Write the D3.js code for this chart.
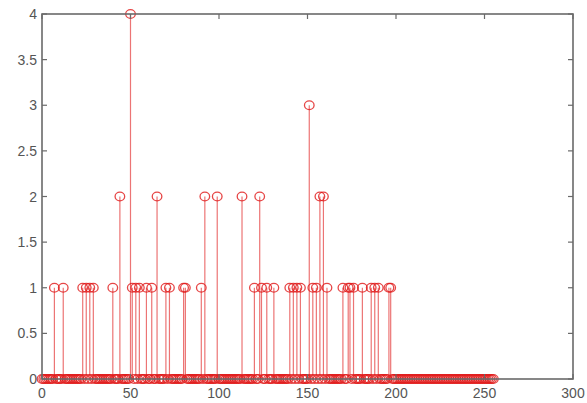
<!DOCTYPE html>
<html>
<head>
<meta charset="utf-8">
<script src="https://cdn.jsdelivr.net/npm/d3@7"></script>
<style>
  html, body { margin: 0; padding: 0; background: #fff; }
  svg { display: block; }
</style>
</head>
<body>
<svg id="chart" width="587" height="403"></svg>
<script>
// Histogram bins 0..255 (stem plot). Non-zero bins.
const binCount = 256;
const nonzeroBins   = [7, 12, 23, 25, 27, 29, 40, 44, 50, 51, 53, 55, 59, 62, 65, 70, 72, 80, 81,
                       90, 92, 99, 113, 120, 123, 124, 127, 131, 140, 142, 144, 146, 151, 153, 155,
                       157, 159, 161, 170, 173, 174, 176, 181, 186, 188, 190, 196, 197];
const nonzeroCounts = [1, 1, 1, 1, 1, 1, 1, 2, 4, 1, 1, 1, 1, 1, 2, 1, 1, 1, 1,
                       1, 2, 2, 2, 1, 2, 1, 1, 1, 1, 1, 1, 1, 3, 1, 1,
                       2, 2, 1, 1, 1, 1, 1, 1, 1, 1, 1, 1, 1];
const xTicks = [0, 50, 100, 150, 200, 250, 300];
const yTicks = [0, 0.5, 1, 1.5, 2, 2.5, 3, 3.5, 4];

const counts = new Array(binCount).fill(0);
nonzeroBins.forEach((b, i) => { counts[b] = nonzeroCounts[i]; });
const data = counts.map((v, i) => ({ x: i, y: v }));

const svg = d3.select("#chart");
const x = d3.scaleLinear().domain([0, 300]).range([42, 573]);
const y = d3.scaleLinear().domain([0, 4]).range([379, 14]);

const red = "#e01818";
const axisColor = "#6a6a6a";
const textColor = "#555555";

// stems
svg.append("g").selectAll("line").data(data).join("line")
  .attr("x1", d => x(d.x)).attr("x2", d => x(d.x))
  .attr("y1", y(0)).attr("y2", d => y(d.y))
  .attr("stroke", red).attr("stroke-width", 1.2).attr("stroke-opacity", 0.6);

// markers
svg.append("g").selectAll("ellipse").data(data).join("ellipse")
  .attr("cx", d => x(d.x)).attr("cy", d => y(d.y))
  .attr("rx", 4.8).attr("ry", 4.3)
  .attr("fill", "none").attr("stroke", red).attr("stroke-width", 1.3)
  .attr("stroke-opacity", 0.8);

// box
const [x0, x1] = x.range();
const [yb, yt] = y.range();
svg.append("rect")
  .attr("x", x0).attr("y", yt).attr("width", x1 - x0).attr("height", yb - yt)
  .attr("fill", "none").attr("stroke", axisColor).attr("stroke-width", 1.6);

// ticks (inward, on all four sides)
const tl = 5;
const tg = svg.append("g").attr("stroke", axisColor).attr("stroke-width", 1.2);
xTicks.forEach(t => {
  tg.append("line").attr("x1", x(t)).attr("x2", x(t)).attr("y1", yb).attr("y2", yb - tl);
  tg.append("line").attr("x1", x(t)).attr("x2", x(t)).attr("y1", yt).attr("y2", yt + tl);
});
yTicks.forEach(t => {
  tg.append("line").attr("x1", x0).attr("x2", x0 + tl).attr("y1", y(t)).attr("y2", y(t));
  tg.append("line").attr("x1", x1).attr("x2", x1 - tl).attr("y1", y(t)).attr("y2", y(t));
});

// labels
const lg = svg.append("g")
  .attr("font-family", "Liberation Sans, Arial, sans-serif")
  .attr("font-size", 14).attr("fill", textColor);
lg.selectAll("text.xl").data(xTicks).join("text")
  .attr("x", d => x(d)).attr("y", 398)
  .attr("text-anchor", "middle").text(d => d);
lg.selectAll("text.yl").data(yTicks).join("text")
  .attr("x", 37).attr("y", d => y(d) + 5)
  .attr("text-anchor", "end").text(d => d);
</script>
</body>
</html>
